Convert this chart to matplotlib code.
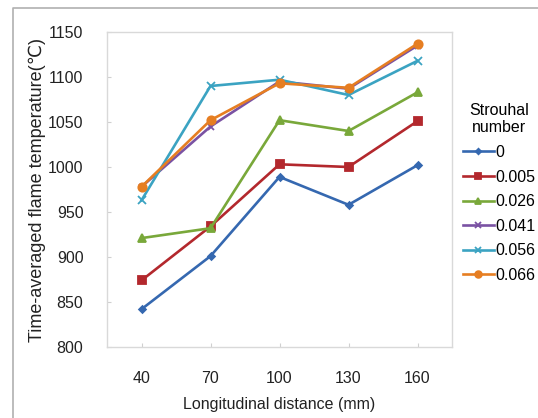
import matplotlib

matplotlib.use("Agg")
import matplotlib.pyplot as plt
from matplotlib.lines import Line2D

plt.rcParams["font.family"] = ["Liberation Sans", "DejaVu Sans"]

# longitudinal distance (mm) -- category axis
distances = ["40", "70", "100", "130", "160"]

# time-averaged flame temperature per Strouhal number
st_0 = [842, 901, 989, 958, 1002]
st_0005 = [874, 934, 1003, 1000, 1051]
st_0026 = [921, 932, 1052, 1040, 1083]
st_0041 = [978, 1045, 1095, 1087, 1135]
st_0056 = [963, 1090, 1097, 1080, 1118]
st_0066 = [978, 1052, 1093, 1088, 1137]

series_labels = ["0", "0.005", "0.026", "0.041", "0.056", "0.066"]
yticks = [800, 850, 900, 950, 1000, 1050, 1100, 1150]

W, H = 538, 418
fig = plt.figure(figsize=(W / 100, H / 100), dpi=100)

# outer page frame (partly cropped)
fig.add_artist(Line2D([13 / W, 13 / W, 1], [0, 1 - 8 / H, 1 - 8 / H],
                      transform=fig.transFigure, color="#b0b0b0", lw=1.2))

ax = fig.add_axes([107 / W, 1 - 347 / H, (452 - 107) / W, (347 - 32) / H])

styles = [
    (st_0, "#3568b0", "D", 3.5),
    (st_0005, "#b3282d", "s", 5.2),
    (st_0026, "#79a83a", "^", 5.5),
    (st_0041, "#7a52a3", "x", 5),
    (st_0056, "#3ba3c2", "x", 5.5),
    (st_0066, "#e67e22", "o", 6),
]
x = list(range(len(distances)))
for (vals, color, mk, ms), lab in zip(styles, series_labels):
    ax.plot(x, vals, color=color, lw=1.9, marker=mk, ms=ms, mew=1.3,
            mfc=color, mec=color, label=lab)

ax.set_xlim(-0.5, len(distances) - 0.5)
ax.set_ylim(800, 1150)
ax.set_xticks(x)
ax.set_xticklabels(distances)
ax.set_yticks(yticks)
ax.tick_params(axis="both", direction="in", length=3, color="#d0d0d0",
               labelsize=11.5, labelcolor="#222222")
ax.tick_params(axis="x", pad=17)
ax.tick_params(axis="y", pad=17)
for s in ax.spines.values():
    s.set_color("#d9d9d9")
    s.set_linewidth(1)

ax.set_xlabel("Longitudinal distance (mm)", fontsize=11.5, color="#222222",
              labelpad=8)
ax.set_ylabel("Time-averaged flame temperature(\u2103)", fontsize=13,
              color="#222222", labelpad=1)

leg = ax.legend(title="Strouhal\nnumber", loc="upper left",
                bbox_to_anchor=(1.0, 0.81), frameon=False, fontsize=11.5,
                title_fontsize=11.5, handlelength=1.9, handletextpad=0.1,
                labelspacing=0.6, borderaxespad=0.3, markerscale=0.8)
leg.get_title().set_multialignment("center")

fig.savefig("out.png", dpi=100)
